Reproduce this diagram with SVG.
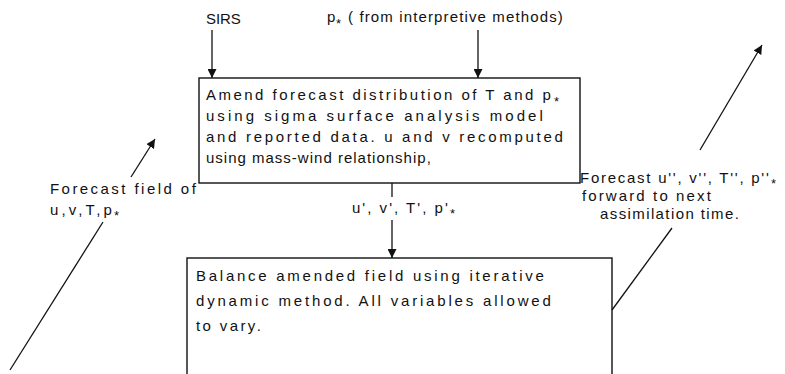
<svg xmlns="http://www.w3.org/2000/svg" width="785" height="374" viewBox="0 0 785 374">
<style>
text{font-family:"Liberation Sans",Arial,sans-serif;font-size:15px;fill:#111;letter-spacing:1.2px}
.sub{font-size:13px;letter-spacing:0}
.box{fill:none;stroke:#111;stroke-width:1.4}
.ln{fill:none;stroke:#111;stroke-width:1.3}
</style>
<defs>
<marker id="ah" viewBox="0 0 10 10" refX="10" refY="5" markerWidth="9" markerHeight="9" markerUnits="userSpaceOnUse" orient="auto">
<path d="M0,0 L10,5 L0,10 z" fill="#111"/>
</marker>
</defs>
<rect width="785" height="374" fill="#fff"/>
<g id="connectors">
<line class="ln" x1="212" y1="30" x2="212" y2="78" marker-end="url(#ah)"/>
<line class="ln" x1="478" y1="30" x2="478" y2="78" marker-end="url(#ah)"/>
<line class="ln" x1="392" y1="183" x2="392" y2="197"/>
<line class="ln" x1="392" y1="220" x2="392" y2="258" marker-end="url(#ah)"/>
<line class="ln" x1="10" y1="370" x2="103" y2="222"/>
<line class="ln" x1="131" y1="177" x2="155" y2="139" marker-end="url(#ah)"/>
<line class="ln" x1="700" y1="150" x2="762" y2="45" marker-end="url(#ah)"/>
<line class="ln" x1="612" y1="310" x2="672" y2="228"/>
</g>
<g id="label-sirs"><text x="206" y="24" textLength="36" lengthAdjust="spacing">SIRS</text></g>
<g id="label-pstar">
<text x="327" y="22">p</text><text class="sub" x="336" y="28">*</text>
<text x="348" y="22" textLength="216" lengthAdjust="spacing">( from interpretive methods)</text>
</g>
<g id="node-amend">
<rect class="box" x="199" y="78" width="381" height="105"/>
<text x="206" y="100" textLength="346" lengthAdjust="spacing">Amend forecast distribution of T and p</text><text class="sub" x="554" y="106">*</text>
<text x="206" y="121" textLength="338" lengthAdjust="spacing">using sigma surface analysis model</text>
<text x="206" y="142" textLength="358" lengthAdjust="spacing">and reported data. u and v recomputed</text>
<text x="206" y="163" textLength="226" lengthAdjust="spacing">using mass-wind relationship,</text>
</g>
<g id="label-forecast-left">
<text x="50" y="194" textLength="147" lengthAdjust="spacing">Forecast field of</text>
<text x="50" y="215" textLength="63" lengthAdjust="spacing">u,v,T,p</text><text class="sub" x="114" y="220">*</text>
</g>
<g id="label-uprime">
<text x="352" y="213" textLength="97" lengthAdjust="spacing">u', v', T', p'</text><text class="sub" x="450" y="218">*</text>
</g>
<g id="label-forecast-right">
<text x="580" y="183" textLength="190" lengthAdjust="spacing">Forecast u'', v'', T'', p''</text><text class="sub" x="771" y="188">*</text>
<text x="582" y="201" textLength="130" lengthAdjust="spacing">forward to next</text>
<text x="600" y="219" textLength="140" lengthAdjust="spacing">assimilation time.</text>
</g>
<g id="node-balance">
<rect class="box" x="187" y="258" width="425" height="130"/>
<text x="196" y="281" textLength="349" lengthAdjust="spacing">Balance amended field using iterative</text>
<text x="196" y="306" textLength="356" lengthAdjust="spacing">dynamic method. All variables allowed</text>
<text x="196" y="331" textLength="66" lengthAdjust="spacing">to vary.</text>
</g>
</svg>
